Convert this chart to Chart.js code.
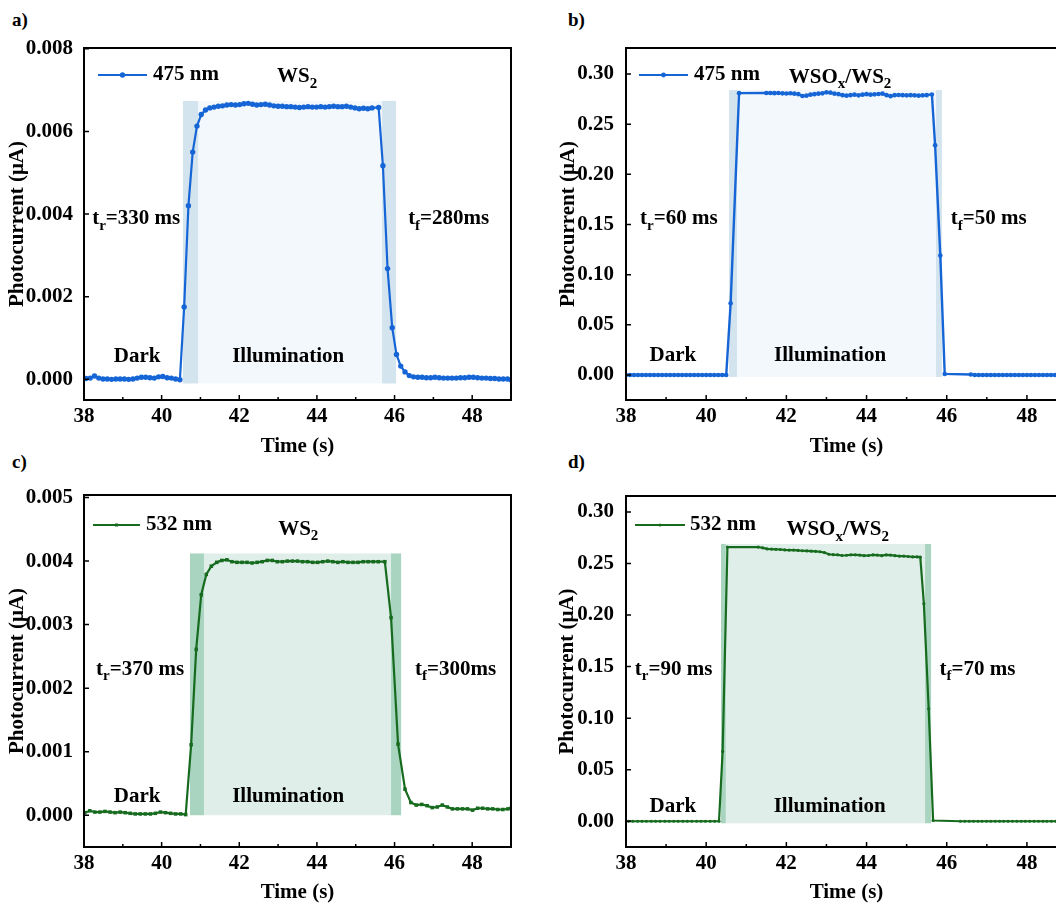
<!DOCTYPE html>
<html lang="en">
<head>
<meta charset="UTF-8">
<title>Photocurrent response of WS2 and WSOx/WS2</title>
<script src="https://cdn.jsdelivr.net/npm/chart.js"></script>
<style>
  html, body { margin: 0; padding: 0; overflow: hidden; background: #fff; }
  body { width: 1056px; height: 905px; position: relative; font-family: "Liberation Serif", "Times New Roman", serif; }
  canvas { position: absolute; }
  .tag { position: absolute; font-weight: bold; font-size: 19px; line-height: 19px; color: #000; }
</style>
</head>
<body>
<div class="tag" style="left:12px;top:10px">a)</div>
<div class="tag" style="left:568px;top:10px">b)</div>
<div class="tag" style="left:12px;top:452px">c)</div>
<div class="tag" style="left:568px;top:452px">d)</div>
<canvas id="chartA" width="540" height="460" style="left:0;top:0"></canvas>
<canvas id="chartB" width="540" height="460" style="left:540px;top:0"></canvas>
<canvas id="chartC" width="540" height="455" style="left:0;top:450px"></canvas>
<canvas id="chartD" width="540" height="455" style="left:540px;top:450px"></canvas>

<script>
// ---------- data (time in s, photocurrent in uA) ----------

// a) WS2, 475 nm
const timeA = [
  38.05,38.16,38.27,38.38,38.49,38.60,38.71,38.82,38.93,39.04,39.15,39.26,39.37,39.48,39.59,39.70,39.81,39.92,40.03,40.14,40.25,40.36,40.47,
  40.58,40.69,40.80,40.91,41.02,41.13,41.24,41.35,41.46,41.57,41.68,41.79,41.90,42.01,42.12,42.23,42.34,42.45,42.56,42.67,
  42.78,42.89,43.00,43.11,43.22,43.33,43.44,43.55,43.66,43.77,43.88,43.99,44.10,44.21,44.32,44.43,44.54,44.65,44.76,44.87,
  44.98,45.09,45.20,45.31,45.42,
  45.59,45.70,45.82,45.94,46.05,46.16,46.27,46.38,46.49,46.60,46.71,46.82,46.93,47.04,47.15,47.26,47.37,47.48,47.59,47.70,
  47.81,47.92,48.03,48.14,48.25,48.36,48.47,48.58,48.69,48.80,48.91,49.00
];
const currentA = [
  0.00002,0.00003,0.00008,0.00003,0.00001,0.00001,0.00000,0.00001,0.00001,0.00001,0.00000,0.00001,0.00003,0.00005,0.00005,0.00004,0.00003,0.00006,0.00007,0.00004,0.00003,0.00001,-0.00001,
  0.00175,0.00420,0.00550,0.00613,0.00641,0.00652,0.00657,0.00659,0.00661,0.00662,0.00664,0.00665,0.00664,0.00665,0.00667,0.00668,0.00666,0.00664,0.00665,0.00666,
  0.00664,0.00662,0.00661,0.00661,0.00660,0.00660,0.00659,0.00658,0.00659,0.00660,0.00659,0.00659,0.00660,0.00659,0.00660,0.00661,0.00660,0.00660,0.00661,0.00659,
  0.00657,0.00655,0.00656,0.00655,0.00657,
  0.00658,0.00517,0.00268,0.00125,0.00060,0.00032,0.00018,0.00009,0.00006,0.00005,0.00005,0.00004,0.00004,0.00005,0.00004,0.00003,0.00003,0.00003,0.00003,0.00004,
  0.00004,0.00005,0.00005,0.00004,0.00003,0.00003,0.00002,0.00002,0.00001,0.00001,0.00001,-0.00001
];

// b) WSOx/WS2, 475 nm
const timeB = [
  38.00,38.10,38.20,38.30,38.40,38.50,38.60,38.70,38.80,38.90,39.00,39.10,39.20,39.30,39.40,39.50,39.60,39.70,39.80,39.90,40.00,40.10,40.20,40.30,40.40,40.50,
  40.61,40.82,
  41.50,41.60,41.70,41.80,41.90,42.00,42.10,42.20,42.30,42.40,42.50,42.60,42.70,42.80,42.90,43.00,43.10,43.20,43.30,43.40,43.50,
  43.60,43.70,43.80,43.90,44.00,44.10,44.20,44.30,44.40,44.50,44.60,44.70,44.80,44.90,45.00,45.10,45.20,45.30,45.40,45.50,45.63,
  45.71,45.84,45.95,
  46.60,46.70,46.80,46.90,47.00,47.10,47.20,47.30,47.40,47.50,47.60,47.70,47.80,47.90,48.00,48.10,48.20,48.30,48.40,48.50,
  48.60,48.70,48.80,48.90,49.00
];
const currentB = [
  0,0,0,0,0,0,0,0,0,0,0,0,0,0,0,0,0,0,0,0,0,0,0,0,0,0,
  0.0715,0.2810,
  0.2812,0.2812,0.2810,0.2812,0.2808,0.2806,0.2809,0.2805,0.2800,0.2782,0.2785,0.2795,0.2800,0.2805,0.2808,0.2818,0.2815,0.2805,0.2800,0.2790,0.2785,
  0.2790,0.2795,0.2788,0.2795,0.2800,0.2795,0.2798,0.2802,0.2805,0.2790,0.2780,0.2790,0.2792,0.2790,0.2788,0.2790,0.2788,0.2785,0.2788,0.2790,0.2797,
  0.2290,0.1190,0.0010,
  0.0005,0,0,0,0,0,0,0,0,0,0,0,0,0,0,0,0,0,0,0,
  0,0,0,0,0
];

// c) WS2, 532 nm
const timeC = [
  38.02,38.15,38.28,38.41,38.54,38.67,38.80,38.93,39.06,39.19,39.32,39.45,39.58,39.71,39.84,39.97,40.10,40.23,40.36,40.49,40.62,
  40.76,40.89,41.02,41.15,41.28,41.42,41.55,41.68,
  41.81,41.94,42.07,42.20,42.33,42.46,42.59,42.72,42.85,42.98,43.11,43.24,43.37,43.50,43.63,43.76,
  43.89,44.02,44.15,44.28,44.41,44.54,44.67,44.80,44.93,45.06,45.19,45.32,45.45,45.58,45.75,
  45.91,46.09,46.27,46.42,46.56,
  46.70,46.84,46.97,47.10,47.23,47.36,47.49,47.62,47.75,47.88,48.01,48.14,48.27,48.40,48.53,48.66,48.79,48.92,49.00
];
const currentC = [
  0.00004,0.00007,0.00005,0.00005,0.00006,0.00005,0.00004,0.00005,0.00004,0.00003,0.00002,0.00002,0.00002,0.00002,0.00003,0.00005,0.00004,0.00003,0.00002,0.00002,0.00001,
  0.00111,0.00261,0.00347,0.00379,0.00392,0.00398,0.00401,0.00402,
  0.00399,0.00398,0.00398,0.00398,0.00397,0.00398,0.00399,0.00401,0.00401,0.00399,0.00399,0.00400,0.00400,0.00400,0.00399,0.00399,
  0.00398,0.00398,0.00399,0.00400,0.00399,0.00398,0.00399,0.00398,0.00398,0.00398,0.00399,0.00399,0.00399,0.00399,0.00399,
  0.00311,0.00112,0.00041,0.00020,0.00016,
  0.00017,0.00015,0.00012,0.00013,0.00016,0.00013,0.00010,0.00010,0.00010,0.00010,0.00008,0.00011,0.00011,0.00010,0.00010,0.00009,0.00009,0.00010,0.00011
];

// d) WSOx/WS2, 532 nm
const timeD = [
  38.06,38.17,38.29,38.40,38.51,38.63,38.74,38.85,38.97,39.08,39.19,39.30,39.42,39.53,39.64,39.76,39.87,39.98,40.10,40.21,40.32,
  40.41,40.53,
  41.30,41.41,41.52,41.63,41.74,41.85,41.96,42.07,42.18,42.29,42.40,42.51,42.62,42.73,42.84,42.95,43.06,43.17,43.28,
  43.39,43.50,43.61,43.72,43.83,43.94,44.05,44.16,44.27,44.38,44.49,44.60,44.71,44.82,44.93,45.04,45.15,45.26,45.34,
  45.43,45.55,45.66,
  46.34,46.45,46.56,46.67,46.78,46.88,46.99,47.10,47.21,47.32,47.42,47.53,47.64,47.75,47.86,47.96,48.07,48.18,48.29,48.40,
  48.50,48.61,48.72,48.83,48.94
];
const currentD = [
  0,0,0,0,0,0,0,0,0,0,0,0,0,0,0,0,0,0,0,0,0,
  0.0677,0.2660,
  0.2660,0.2652,0.2642,0.2640,0.2638,0.2636,0.2632,0.2630,0.2630,0.2627,0.2624,0.2622,0.2620,0.2618,0.2614,0.2606,0.2590,0.2586,0.2584,
  0.2578,0.2580,0.2584,0.2584,0.2582,0.2576,0.2578,0.2584,0.2582,0.2576,0.2584,0.2582,0.2576,0.2572,0.2572,0.2568,0.2564,0.2564,0.2562,
  0.2110,0.1090,0.0007,
  0,0,0,0,0,0,0,0,0,0,0,0,0,0,0,0,0,0,0,0,
  0,0,0,0,0
];

// axis ticks
const xTicks = [38, 40, 42, 44, 46, 48];
const yTicksA = [0, 0.002, 0.004, 0.006, 0.008];
const yTicksB = [0, 0.05, 0.10, 0.15, 0.20, 0.25, 0.30];
const yTicksC = [0, 0.001, 0.002, 0.003, 0.004, 0.005];
const yTicksD = [0, 0.05, 0.10, 0.15, 0.20, 0.25, 0.30];

// rise window and fall window (s), and the shaded current range
const windowsA = [40.55, 40.94, 45.68, 46.04];  const shadeA = [-0.0001, 0.00674];
const windowsB = [40.57, 40.77, 45.73, 45.88];  const shadeB = [-0.002, 0.284];
const windowsC = [40.73, 41.09, 45.91, 46.17];  const shadeC = [0, 0.00412];
const windowsD = [40.37, 40.49, 45.46, 45.61];  const shadeD = [-0.002, 0.269];

// ---------- drawing ----------
const BLUE = '#1565d6';
const GREEN = '#166b1f';
const SERIF = '"Liberation Serif", "Times New Roman", serif';

Chart.defaults.font.family = SERIF;
Chart.defaults.font.size = 21;
Chart.defaults.font.weight = 'bold';
Chart.defaults.color = '#000';

// text with subscripts: parts = [[text, isSub], ...]
function drawRich(ctx, parts, px, py, align) {
  const big = 'bold 21px ' + SERIF, small = 'bold 15px ' + SERIF;
  let w = 0;
  parts.forEach(([s, sub]) => { ctx.font = sub ? small : big; w += ctx.measureText(s).width; });
  let cx = align === 'center' ? px - w / 2 : px;
  ctx.textAlign = 'left';
  ctx.textBaseline = 'middle';
  ctx.fillStyle = '#000';
  parts.forEach(([s, sub]) => {
    ctx.font = sub ? small : big;
    ctx.fillText(s, cx, sub ? py + 7 : py);
    cx += ctx.measureText(s).width;
  });
}

const decor = {
  id: 'decor',
  beforeDatasetsDraw(chart, args, o) {
    const { ctx, scales: { x, y } } = chart;
    const [r0, r1, f0, f1] = o.windows;
    const yTop = y.getPixelForValue(o.shade[1]);
    const yBot = y.getPixelForValue(o.shade[0]);
    const px = v => x.getPixelForValue(v);
    ctx.save();
    ctx.fillStyle = o.light;
    ctx.fillRect(px(r1), yTop, px(f0) - px(r1), yBot - yTop);
    ctx.fillStyle = o.dark;
    ctx.fillRect(px(r0), yTop, px(r1) - px(r0), yBot - yTop);
    ctx.fillRect(px(f0), yTop, px(f1) - px(f0), yBot - yTop);
    ctx.restore();
  },
  afterDraw(chart, args, o) {
    const { ctx, chartArea: ca, scales: { x, y } } = chart;
    ctx.save();
    // frame
    ctx.strokeStyle = '#000';
    ctx.lineWidth = 2;
    ctx.strokeRect(ca.left, ca.top, ca.right - ca.left, ca.bottom - ca.top);
    // inward ticks
    ctx.lineWidth = 1.5;
    ctx.beginPath();
    for (let v = 38; v <= 49; v++) {
      const p = x.getPixelForValue(v);
      const len = v % 2 === 0 ? 5 : 3;
      ctx.moveTo(p, ca.bottom);
      ctx.lineTo(p, ca.bottom - len);
    }
    o.yTicks.forEach(v => {
      const p = y.getPixelForValue(v);
      ctx.moveTo(ca.left, p);
      ctx.lineTo(ca.left + 5, p);
    });
    ctx.stroke();

    // legend
    const lg = o.legend;
    const ly = ca.top + lg.dy;
    ctx.strokeStyle = o.color;
    ctx.lineWidth = 2.2;
    ctx.beginPath();
    ctx.moveTo(ca.left + lg.x0, ly);
    ctx.lineTo(ca.left + lg.x1, ly);
    ctx.stroke();
    ctx.fillStyle = o.color;
    const mx = ca.left + (lg.x0 + lg.x1) / 2;
    if (o.pointStyle === 'rect') {
      ctx.fillRect(mx - 1.5, ly - 1.5, 3, 3);
    } else {
      ctx.beginPath();
      ctx.arc(mx, ly, lg.r, 0, Math.PI * 2);
      ctx.fill();
    }
    drawRich(ctx, [[o.label]], ca.left + lg.tx, ly, 'left');

    // notes placed in data coordinates
    o.notes.forEach(n => {
      drawRich(ctx, n.parts, x.getPixelForValue(n.x), y.getPixelForValue(n.y), n.align);
    });
    ctx.restore();
  }
};

function makeChart(p) {
  const points = p.time.map((t, i) => ({ x: t, y: p.current[i] }));
  return new Chart(document.getElementById(p.id), {
    type: 'line',
    data: {
      datasets: [{
        label: p.label,
        data: points,
        borderColor: p.color,
        backgroundColor: p.color,
        borderWidth: p.lineWidth,
        pointStyle: p.pointStyle,
        pointRadius: p.pointRadius,
        pointBorderWidth: 0,
        pointBackgroundColor: p.color,
        tension: 0
      }]
    },
    options: {
      responsive: false,
      animation: false,
      devicePixelRatio: 1,
      layout: { padding: p.padding },
      plugins: {
        legend: { display: false },
        tooltip: { enabled: false },
        decor: {
          color: p.color, dark: p.dark, light: p.light,
          windows: p.windows, shade: p.shade, yTicks: p.yTicks,
          label: p.label, legend: p.legend, pointStyle: p.pointStyle, notes: p.notes
        }
      },
      scales: {
        x: {
          type: 'linear', min: 38, max: 49,
          afterBuildTicks: s => { s.ticks = xTicks.map(v => ({ value: v })); },
          afterFit: s => { s.height = p.xAxisHeight; },
          grid: { display: false },
          border: { display: false },
          ticks: { padding: -4, callback: v => String(v) },
          title: { display: true, text: 'Time (s)', padding: { top: 0, bottom: p.xTitlePad } }
        },
        y: {
          type: 'linear', min: p.yMin, max: p.yMax,
          afterBuildTicks: s => { s.ticks = p.yTicks.map(v => ({ value: v })); },
          afterFit: s => { s.width = p.yAxisWidth; },
          grid: { display: false },
          border: { display: false },
          ticks: { padding: p.yTickPad, callback: v => v.toFixed(p.decimals) },
          title: { display: true, text: 'Photocurrent (\u03bcA)', padding: { top: p.yTitlePad, bottom: 0 } }
        }
      }
    },
    plugins: [decor]
  });
}

const WS2 = [['WS'], ['2', 1]];
const WSOX = [['WSO'], ['x', 1], ['/WS'], ['2', 1]];

makeChart({
  id: 'chartA', label: '475 nm', time: timeA, current: currentA, color: BLUE,
  dark: '#d4e4ee', light: '#f3f8fd', windows: windowsA, shade: shadeA,
  pointStyle: 'circle', pointRadius: 2.7, lineWidth: 2.2,
  yMin: -0.0005, yMax: 0.00802, yTicks: yTicksA, decimals: 3,
  padding: { left: 0, top: 48, right: 29, bottom: 0 },
  yAxisWidth: 84, xAxisHeight: 60, yTitlePad: 5, xTitlePad: 1, yTickPad: 3,
  legend: { x0: 14, x1: 63, dy: 27, r: 2.7, tx: 69 },
  notes: [
    { parts: WS2, x: 43.49, y: 0.00732, align: 'center' },
    { parts: [['Dark']], x: 39.37, y: 0.00056, align: 'center' },
    { parts: [['Illumination']], x: 43.26, y: 0.00056, align: 'center' },
    { parts: [['t'], ['r', 1], ['=330 ms']], x: 38.21, y: 0.00388, align: 'left' },
    { parts: [['t'], ['f', 1], ['=280ms']], x: 46.35, y: 0.00388, align: 'left' }
  ]
});

makeChart({
  id: 'chartB', label: '475 nm', time: timeB, current: currentB, color: BLUE,
  dark: '#d4e4ee', light: '#f3f8fd', windows: windowsB, shade: shadeB,
  pointStyle: 'circle', pointRadius: 2.3, lineWidth: 2.4,
  yMin: -0.025, yMax: 0.326, yTicks: yTicksB, decimals: 2,
  padding: { left: 0, top: 48, right: 13, bottom: 0 },
  yAxisWidth: 86, xAxisHeight: 60, yTitlePad: 16, xTitlePad: 1, yTickPad: 4,
  legend: { x0: 13, x1: 62, dy: 27, r: 2.4, tx: 68 },
  notes: [
    { parts: WSOX, x: 43.34, y: 0.297, align: 'center' },
    { parts: [['Dark']], x: 39.17, y: 0.019, align: 'center' },
    { parts: [['Illumination']], x: 43.09, y: 0.019, align: 'center' },
    { parts: [['t'], ['r', 1], ['=60 ms']], x: 38.35, y: 0.1555, align: 'left' },
    { parts: [['t'], ['f', 1], ['=50 ms']], x: 46.10, y: 0.1555, align: 'left' }
  ]
});

makeChart({
  id: 'chartC', label: '532 nm', time: timeC, current: currentC, color: GREEN,
  dark: '#a9d4bf', light: '#e0eee9', windows: windowsC, shade: shadeC,
  pointStyle: 'rect', pointRadius: 2.5, lineWidth: 2.2,
  yMin: -0.0005, yMax: 0.00504, yTicks: yTicksC, decimals: 3,
  padding: { left: 0, top: 45, right: 29, bottom: 0 },
  yAxisWidth: 84, xAxisHeight: 58, yTitlePad: 5, xTitlePad: 0, yTickPad: 3,
  legend: { x0: 9, x1: 56, dy: 30, r: 1.5, tx: 62 },
  notes: [
    { parts: WS2, x: 43.52, y: 0.0045, align: 'center' },
    { parts: [['Dark']], x: 39.37, y: 0.00029, align: 'center' },
    { parts: [['Illumination']], x: 43.26, y: 0.00029, align: 'center' },
    { parts: [['t'], ['r', 1], ['=370 ms']], x: 38.31, y: 0.0023, align: 'left' },
    { parts: [['t'], ['f', 1], ['=300ms']], x: 46.53, y: 0.0023, align: 'left' }
  ]
});

makeChart({
  id: 'chartD', label: '532 nm', time: timeD, current: currentD, color: GREEN,
  dark: '#a9d4bf', light: '#e0eee9', windows: windowsD, shade: shadeD,
  pointStyle: 'circle', pointRadius: 1.6, lineWidth: 2.2,
  yMin: -0.025, yMax: 0.3155, yTicks: yTicksD, decimals: 2,
  padding: { left: 0, top: 46, right: 13, bottom: 0 },
  yAxisWidth: 86, xAxisHeight: 58, yTitlePad: 15, xTitlePad: 0, yTickPad: 4,
  legend: { x0: 9, x1: 59, dy: 29, r: 1.6, tx: 64 },
  notes: [
    { parts: WSOX, x: 43.28, y: 0.2825, align: 'center' },
    { parts: [['Dark']], x: 39.17, y: 0.0143, align: 'center' },
    { parts: [['Illumination']], x: 43.08, y: 0.0143, align: 'center' },
    { parts: [['t'], ['r', 1], ['=90 ms']], x: 38.22, y: 0.1475, align: 'left' },
    { parts: [['t'], ['f', 1], ['=70 ms']], x: 45.82, y: 0.1475, align: 'left' }
  ]
});
</script>
</body>
</html>
